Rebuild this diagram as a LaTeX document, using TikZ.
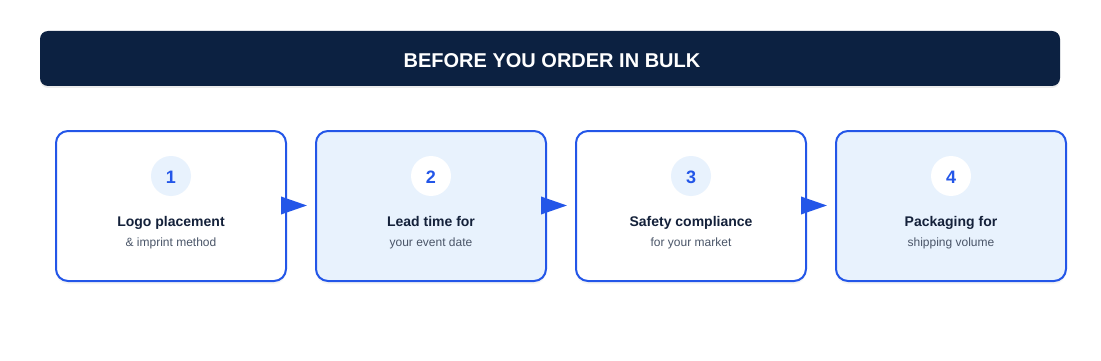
\documentclass[tikz,border=0pt]{standalone}
\usepackage{fontspec}
\setmainfont{Liberation Sans}
\usepackage{xcolor}
\usetikzlibrary{arrows.meta,positioning,shadows}
\definecolor{navy}{HTML}{0C2141}
\definecolor{stepblue}{HTML}{2356E8}
\definecolor{paleblue}{HTML}{E8F2FD}
\definecolor{inkdark}{HTML}{14213A}
\definecolor{inkgray}{HTML}{4A5568}

\begin{document}
\begin{tikzpicture}[x=1pt,y=-1pt,
    header/.style={fill=navy,rounded corners=8pt,minimum width=1020pt,minimum height=55pt,
        drop shadow={opacity=0.15,shadow xshift=0pt,shadow yshift=-2pt}},
    headtext/.style={anchor=base,text=white,font=\bfseries\fontsize{20}{24}\selectfont},
    card/.style={draw=stepblue,line width=2pt,rounded corners=12pt,minimum width=230pt,
        minimum height=150pt,inner sep=0pt,
        drop shadow={opacity=0.08,shadow xshift=0pt,shadow yshift=-3pt}},
    badge/.style={circle,minimum size=40pt,inner sep=0pt},
    badgenum/.style={anchor=base,text=stepblue,font=\bfseries\fontsize{18}{20}\selectfont},
    steptitle/.style={anchor=base,text=inkdark,font=\bfseries\fontsize{14}{16}\selectfont},
    stepnote/.style={anchor=base,text=inkgray,font=\fontsize{12}{14}\selectfont},
    flow/.style={draw=stepblue,line width=2pt,-{Triangle[length=26pt,width=17.5pt]}}]
    \useasboundingbox (0,0) rectangle (1101,361);

    % Banner
    \node[header] (head) at (550,58.5) {};
    \node[headtext] (headline) at (552,67.3) {BEFORE YOU ORDER IN BULK};

    % Steps
    \foreach \i/\x/\bg/\dot/\title/\note in {%
        1/171/white/paleblue/Logo placement/\& imprint method,
        2/431/paleblue/white/Lead time for/your event date,
        3/691/white/paleblue/Safety compliance/for your market,
        4/951/paleblue/white/Packaging for/shipping volume} {
        \node[card,fill=\bg] (card\i) at (\x,206) {};
        \node[badge,fill=\dot] (badge\i) at (\x,176) {};
        \node[badgenum] (num\i) at (\x,183.3) {\i};
        \node[steptitle] (title\i) at (\x,226.5) {\title};
        \node[stepnote] (note\i) at (\x,246) {\note};
    }

    % Arrows between steps
    \foreach \i/\j in {1/2,2/3,3/4}
        \draw[flow] ([xshift=-4pt,yshift=0.5pt]card\i.east) -- ([xshift=-8pt,yshift=0.5pt]card\j.west);
\end{tikzpicture}
\end{document}
